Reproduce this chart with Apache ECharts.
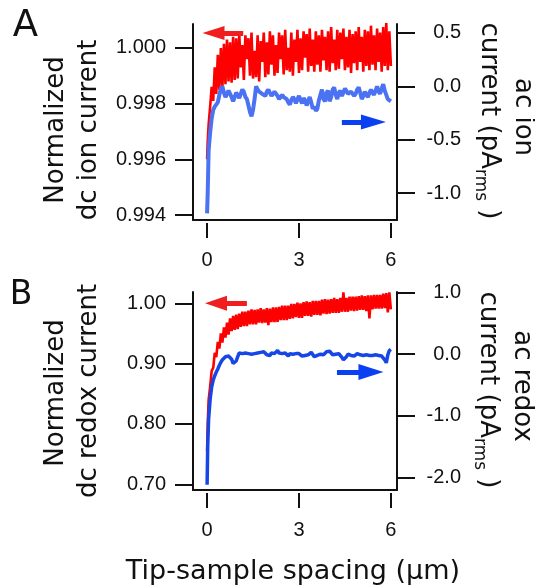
<!DOCTYPE html>
<html>
<head>
<meta charset="utf-8">
<script src="https://cdn.jsdelivr.net/npm/echarts@6/dist/echarts.min.js"></script>
<style>
html,body{margin:0;padding:0;background:#fff;}
#chart{width:535px;height:586px;}
</style>
</head>
<body>
<div id="chart"></div>
<script>
// Tip-sample spacing (µm) sampling positions shared by all traces
const spacing = [0, 0.02, 0.05, 0.10, 0.15, 0.20, 0.25, 0.30, 0.35, 0.40, 0.45, 0.50, 0.55, 0.60, 0.65, 0.70, 0.75, 0.80, 0.85, 0.90, 0.95,
  1.00, 1.05, 1.10, 1.15, 1.20, 1.25, 1.30, 1.35, 1.40, 1.45, 1.50, 1.55, 1.60, 1.65, 1.70, 1.75, 1.80, 1.85, 1.90, 1.95,
  2.00, 2.05, 2.10, 2.15, 2.20, 2.25, 2.30, 2.35, 2.40, 2.45, 2.50, 2.55, 2.60, 2.65, 2.70, 2.75, 2.80, 2.85, 2.90, 2.95,
  3.00, 3.05, 3.10, 3.15, 3.20, 3.25, 3.30, 3.35, 3.40, 3.45, 3.50, 3.55, 3.60, 3.65, 3.70, 3.75, 3.80, 3.85, 3.90, 3.95,
  4.00, 4.05, 4.10, 4.15, 4.20, 4.25, 4.30, 4.35, 4.40, 4.45, 4.50, 4.55, 4.60, 4.65, 4.70, 4.75, 4.80, 4.85, 4.90, 4.95,
  5.00, 5.05, 5.10, 5.15, 5.20, 5.25, 5.30, 5.35, 5.40, 5.45, 5.50, 5.55, 5.60, 5.65, 5.70, 5.75, 5.80, 5.85, 5.90, 5.95, 6.00];

// Panel A: normalized dc ion current (left axis)
const dcIonA = [
  0.99600, 0.99665, 0.99725, 0.99790, 0.99860, 0.99810, 0.99930, 0.99835, 0.99975, 0.99850,
  1.00000, 0.99860, 1.00015, 0.99870, 1.00030, 0.99880, 1.00020, 0.99875, 1.00040, 0.99885,
  1.00035, 0.99890, 1.00050, 0.99930, 1.00010, 0.99885, 1.00045, 0.99960, 1.00035, 0.99900,
  1.00055, 0.99890, 0.99990, 0.99895, 1.00045, 0.99880, 1.00025, 0.99950, 1.00055, 0.99895,
  1.00020, 0.99905, 1.00060, 0.99940, 1.00045, 0.99900, 1.00010, 0.99910, 1.00055, 0.99960,
  1.00045, 0.99905, 1.00065, 0.99920, 1.00000, 0.99915, 1.00055, 0.99900, 1.00030, 0.99950,
  1.00065, 0.99910, 1.00035, 0.99920, 1.00060, 0.99965, 1.00050, 0.99915, 1.00070, 0.99935,
  1.00030, 0.99915, 1.00060, 0.99940, 1.00045, 0.99915, 1.00065, 0.99955, 1.00040, 0.99920,
  1.00060, 0.99915, 1.00075, 0.99945, 1.00030, 0.99920, 1.00065, 0.99925, 1.00055, 0.99960,
  1.00070, 0.99920, 1.00040, 0.99930, 1.00065, 0.99910, 1.00050, 0.99945, 1.00060, 0.99920,
  1.00075, 0.99950, 1.00040, 0.99915, 1.00065, 0.99935, 1.00060, 0.99920, 1.00080, 0.99940,
  1.00045, 0.99920, 1.00070, 0.99950, 1.00055, 0.99915, 1.00075, 0.99935, 1.00090, 0.99920,
  1.00060, 0.99935];

// Panel A: ac ion current, pA rms (right axis)
const acIonA = [
  -1.19, -1.00, -0.60, -0.43, -0.30, -0.22, -0.19, -0.20, -0.15, -0.08,
  -0.02, 0.00, -0.06, -0.10, -0.07, -0.04, -0.05, -0.10, -0.14, -0.10,
  -0.06, -0.08, -0.11, -0.07, -0.03, -0.05, -0.10, -0.12, -0.18, -0.24,
  -0.28, -0.22, -0.12, 0.00, -0.03, -0.05, -0.04, -0.07, -0.06, -0.09,
  -0.05, -0.03, -0.06, -0.09, -0.07, -0.05, -0.06, -0.09, -0.12, -0.10,
  -0.08, -0.10, -0.09, -0.12, -0.15, -0.17, -0.13, -0.10, -0.12, -0.16,
  -0.12, -0.09, -0.13, -0.16, -0.11, -0.13, -0.18, -0.14, -0.10, -0.15,
  -0.21, -0.19, -0.23, -0.21, -0.13, -0.08, -0.03, -0.12, -0.14, -0.06,
  -0.04, -0.14, -0.10, -0.03, -0.01, -0.08, -0.12, -0.06, -0.04, -0.09,
  -0.06, -0.02, -0.01, -0.07, -0.08, -0.05, -0.04, -0.09, -0.07, -0.03,
  -0.01, -0.06, -0.12, -0.09, -0.05, -0.08, -0.10, -0.06, -0.03, -0.06,
  -0.08, -0.04, 0.00, -0.05, -0.07, -0.02, 0.02, -0.04, -0.08, -0.12,
  -0.13, -0.14];

// Panel B: normalized dc redox current (left axis)
const dcRedoxB = [
  0.755, 0.800, 0.840, 0.862, 0.888, 0.893, 0.918, 0.911, 0.936, 0.925,
  0.950, 0.935, 0.960, 0.943, 0.968, 0.948, 0.975, 0.954, 0.979, 0.956,
  0.981, 0.957, 0.983, 0.961, 0.986, 0.962, 0.986, 0.962, 0.988, 0.965,
  0.990, 0.965, 0.989, 0.965, 0.990, 0.968, 0.992, 0.967, 0.990, 0.968,
  0.992, 0.964, 0.991, 0.969, 0.993, 0.969, 0.993, 0.969, 0.994, 0.972,
  0.996, 0.972, 0.996, 0.972, 0.996, 0.974, 0.999, 0.975, 0.999, 0.977,
  1.001, 0.976, 1.000, 0.976, 1.002, 0.979, 1.003, 0.979, 1.002, 0.978,
  1.004, 0.981, 1.004, 0.981, 1.004, 0.980, 1.006, 0.983, 1.007, 0.982,
  1.006, 0.983, 1.007, 0.984, 1.009, 0.984, 1.007, 0.984, 1.009, 0.986,
  1.018, 0.986, 1.009, 0.986, 1.011, 0.988, 1.011, 0.987, 1.011, 0.988,
  1.012, 0.989, 1.013, 0.989, 1.012, 0.987, 1.013, 0.975, 1.013, 0.990,
  1.014, 0.991, 1.014, 0.991, 1.014, 0.991, 1.016, 0.992, 1.017, 0.985,
  1.018, 0.990];

// Panel B: ac redox current, pA rms (right axis)
const acRedoxB = [
  -2.12, -1.50, -1.05, -0.73, -0.53, -0.42, -0.35, -0.29, -0.24, -0.18,
  -0.13, -0.09, -0.06, -0.04, -0.07, -0.03, -0.02, -0.08, -0.15, -0.17,
  -0.11, -0.04, 0.02, 0.03, 0.01, -0.01, 0.02, 0.04, 0.01, 0.03,
  0.00, -0.02, 0.01, -0.01, 0.02, 0.00, 0.03, 0.01, 0.04, 0.02,
  -0.01, 0.01, -0.02, 0.02, 0.04, 0.01, 0.03, 0.06, 0.02, -0.01,
  0.01, -0.02, 0.02, 0.00, -0.03, 0.01, 0.03, 0.00, -0.02, 0.01,
  0.03, 0.01, 0.00, -0.03, -0.05, -0.02, 0.01, -0.01, 0.02, 0.03,
  0.00, -0.04, -0.05, -0.02, 0.01, 0.00, 0.02, -0.01, 0.01, 0.04,
  0.02, 0.05, 0.02, -0.01, -0.03, 0.00, -0.01, 0.01, -0.02, -0.05,
  -0.09, -0.10, -0.04, 0.00, 0.02, -0.02, 0.00, -0.03, -0.01, 0.01,
  -0.02, -0.01, 0.01, -0.02, -0.04, -0.01, -0.03, -0.02, -0.05, -0.02,
  -0.04, -0.01, -0.03, -0.02, -0.05, -0.03, -0.06, -0.09, -0.14, -0.01,
  0.06, 0.08];

// Tick labels
const xTicks = [0, 3, 6];
const ticksIonLeft = [0.994, 0.996, 0.998, 1.000];
const ticksIonRight = [-1.0, -0.5, 0.0, 0.5];
const ticksRedoxLeft = [0.70, 0.80, 0.90, 1.00];
const ticksRedoxRight = [-2.0, -1.0, 0.0, 1.0];

const pair = (ys) => spacing.map((x, i) => [x, ys[i]]);

const BLACK = '#111';
const tickFont = { fontFamily: 'Liberation Sans', fontSize: 20, color: BLACK };
const TITLE_FAMILY = '"DejaVu Sans"';

function xAxes(grid) {
  return [
    { gridIndex: grid, type: 'value', min: -0.46, max: 6.2, position: 'bottom',
      axisLine: { show: true, onZero: false, lineStyle: { color: BLACK, width: 2 } },
      axisTick: { show: false }, axisLabel: { show: false }, splitLine: { show: false } },
    { gridIndex: grid, type: 'value', min: -0.46, max: 6.2, position: 'bottom', offset: 3,
      axisLine: { show: false, onZero: false },
      axisTick: { show: true, length: 15, customValues: xTicks, lineStyle: { color: BLACK, width: 2 } },
      axisLabel: Object.assign({ show: true, margin: 27, customValues: xTicks, formatter: v => String(v) }, tickFont),
      splitLine: { show: false } }
  ];
}

function yAxis(grid, pos, min, max, ticks, dec) {
  return { gridIndex: grid, type: 'value', position: pos, min: min, max: max,
    axisLine: { show: true, onZero: false, lineStyle: { color: BLACK, width: 2 } },
    axisTick: { show: true, length: 18, customValues: ticks, lineStyle: { color: BLACK, width: 2 } },
    axisLabel: Object.assign({ show: true, customValues: ticks, formatter: v => v.toFixed(dec),
      margin: pos === 'left' ? 27 : 64, align: 'right', showMinLabel: true, showMaxLabel: true }, tickFont),
    splitLine: { show: false } };
}

function arrow(from, to, color, size) {
  return { silent: true, animation: false, symbol: ['none', 'triangle'], symbolSize: size,
    label: { show: false }, emphasis: { disabled: true },
    lineStyle: { color: color, width: 5, type: 'solid' },
    data: [[{ coord: from }, { coord: to }]] };
}

const measureCtx = document.createElement('canvas').getContext('2d');
function textWidth(t, font) { measureCtx.font = font; return measureCtx.measureText(t).width; }

function txt(x, y, text, size, rot, align) {
  return { type: 'text', x: x, y: y, rotation: rot || 0,
    style: { text: text, font: size + 'px ' + TITLE_FAMILY, fill: BLACK,
      align: align || 'center', textAlign: align || 'center', verticalAlign: 'middle', textVerticalAlign: 'middle' } };
}

// rotated (top-to-bottom) "current (pA_rms )" with a real subscript
function rightTitle(cx, cy) {
  const f1 = '26px ' + TITLE_FAMILY, f2 = '17px ' + TITLE_FAMILY;
  const t1 = 'current (pA', t2 = 'rms', t3 = ' )';
  const w1 = textWidth(t1, f1), w2 = textWidth(t2, f2), w3 = textWidth(t3, f1);
  const y0 = cy - (w1 + w2 + w3) / 2;
  const rot = -Math.PI / 2;
  return [
    txt(cx, y0, t1, 26, rot, 'left'),
    txt(cx - 9, y0 + w1, t2, 17, rot, 'left'),
    txt(cx, y0 + w1 + w2, t3, 26, rot, 'left')
  ];
}

const RED = '#ff0000', BLUE_A = '#4a72f2', BLUE_B = '#1646e6';
const RED_ARROW = '#f01e1e', BLUE_ARROW = '#0b3ff2';

const chart = echarts.init(document.getElementById('chart'), null, { renderer: 'canvas' });

const option = {
  animation: false,
  backgroundColor: '#fff',
  grid: [
    { left: 193, top: 24, width: 204, height: 196 },
    { left: 193, top: 292, width: 204, height: 198 }
  ],
  xAxis: [].concat(xAxes(0), xAxes(1)),
  yAxis: [
    yAxis(0, 'left', 0.99382, 1.00086, ticksIonLeft, 3),
    yAxis(0, 'right', -1.252, 0.584, ticksIonRight, 1),
    yAxis(1, 'left', 0.6906, 1.0187, ticksRedoxLeft, 2),
    yAxis(1, 'right', -2.206, 1.011, ticksRedoxRight, 1)
  ],
  series: [
    { type: 'line', xAxisIndex: 0, yAxisIndex: 0, data: pair(dcIonA), showSymbol: false, silent: true,
      lineStyle: { color: RED, width: 2.6 }, z: 2,
      markLine: arrow([1.18, 1.00054], [0.21, 1.00054], RED_ARROW, [14, 22]) },
    { type: 'line', xAxisIndex: 0, yAxisIndex: 1, data: pair(acIonA), showSymbol: false, silent: true,
      lineStyle: { color: BLUE_A, width: 4 }, z: 3,
      markLine: arrow([4.40, -0.335], [5.43, -0.335], BLUE_ARROW, [15, 25]) },
    { type: 'line', xAxisIndex: 2, yAxisIndex: 2, data: pair(dcRedoxB), showSymbol: false, silent: true,
      lineStyle: { color: RED, width: 2.6 }, z: 2,
      markLine: arrow([1.30, 1.0], [0.29, 1.0], RED_ARROW, [15, 22]) },
    { type: 'line', xAxisIndex: 2, yAxisIndex: 3, data: pair(acRedoxB), showSymbol: false, silent: true,
      lineStyle: { color: BLUE_B, width: 3.5 }, z: 3,
      markLine: arrow([4.24, -0.29], [5.35, -0.29], BLUE_ARROW, [16, 25]) }
  ],
  graphic: [
    txt(25.5, 26, 'A', 37),
    txt(21, 295, 'B', 33),
    txt(56, 130, 'Normalized', 26, Math.PI / 2),
    txt(89, 130, 'dc ion current', 26, Math.PI / 2),
    txt(56, 393, 'Normalized', 26, Math.PI / 2),
    txt(89, 391, 'dc redox current', 26, Math.PI / 2),
    txt(523, 117, 'ac ion', 26, -Math.PI / 2),
    txt(522, 386, 'ac redox', 26, -Math.PI / 2),
    txt(293, 572, 'Tip-sample spacing (µm)', 27)
  ].concat(rightTitle(489, 121), rightTitle(488, 390))
};

chart.setOption(option);
</script>
</body>
</html>
